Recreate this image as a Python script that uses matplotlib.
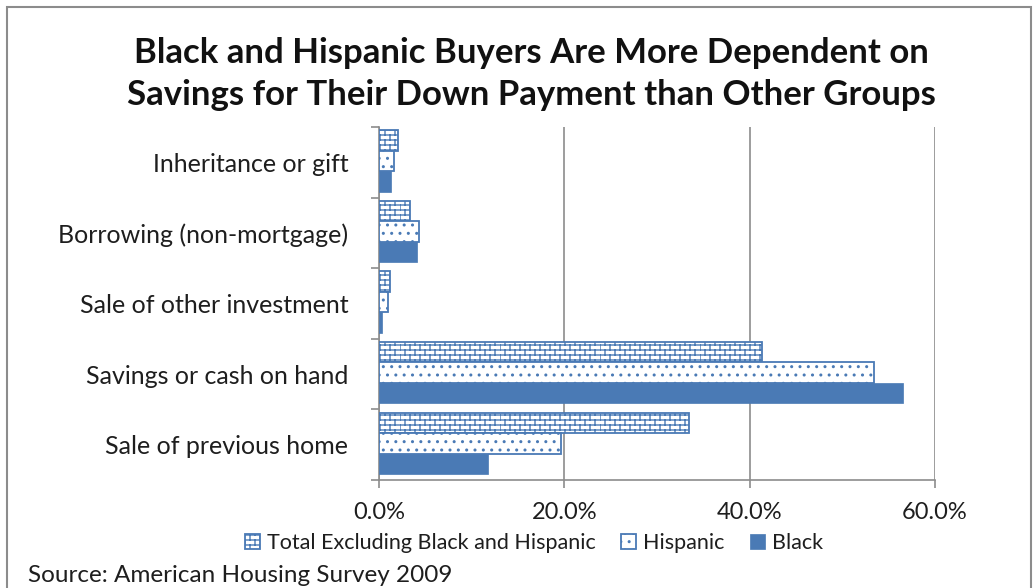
import warnings
import numpy as np
import matplotlib
matplotlib.use("Agg")
import matplotlib.pyplot as plt
import matplotlib.hatch as mhatch
from matplotlib.path import Path
from matplotlib.patches import Rectangle, Patch
from matplotlib.ticker import FixedLocator, PercentFormatter

warnings.filterwarnings("ignore")

# ---------------- data ----------------
categories = ["Inheritance or gift", "Borrowing (non-mortgage)", "Sale of other investment",
              "Savings or cash on hand", "Sale of previous home"]
series_names = ["Total Excluding Black and Hispanic", "Hispanic", "Black"]
total_excl = [2.0, 3.3, 1.2, 41.3, 33.4]
hispanic = [1.6, 4.3, 1.0, 53.4, 19.6]
black = [1.3, 4.1, 0.3, 56.6, 11.8]
x_ticks = [0, 20, 40, 60]
title = "Black and Hispanic Buyers Are More Dependent on\nSavings for Their Down Payment than Other Groups"
source = "Source: American Housing Survey 2009"


# ---------------- custom brick hatch ----------------
class BrickHatch(mhatch.HatchPatternBase):
    def __init__(self, hatch, density):
        n = hatch.count('b')
        self.rows = int(n * density * 3.4) if n else 0
        if self.rows % 2:
            self.rows += 1
        self.cols = 10
        self.num_vertices = (self.rows + self.rows * self.cols) * 2 if n else 0

    def set_vertices_and_codes(self, vertices, codes):
        h = 1.0 / self.rows
        i = 0
        for k in range(self.rows):
            y = k * h
            vertices[i] = (0.0, y); codes[i] = Path.MOVETO; i += 1
            vertices[i] = (1.0, y); codes[i] = Path.LINETO; i += 1
            off = 0.5 * (k % 2) / self.cols
            for j in range(self.cols):
                x = j / self.cols + off
                vertices[i] = (x, y); codes[i] = Path.MOVETO; i += 1
                vertices[i] = (x, y + h); codes[i] = Path.LINETO; i += 1


mhatch._hatch_types.append(BrickHatch)

# ---------------- style ----------------
BLUE = "#4A7AB5"
GREY = "#8C8C8C"
TXT = "#1E1E1E"
plt.rcParams['font.family'] = ['Lato', 'DejaVu Sans']
plt.rcParams['hatch.linewidth'] = 1.0

W, H = 1034, 588
fig = plt.figure(figsize=(W / 100, H / 100), dpi=100)
ax = fig.add_axes([379 / W, 1 - 480 / H, (935 - 379) / W, (480 - 127) / H])

y = np.arange(len(categories))
bh = 0.29
styles = [
    dict(facecolor="white", edgecolor=BLUE, hatch="b", linewidth=1.3),
    dict(facecolor="white", edgecolor=BLUE, hatch="..", linewidth=1.3),
    dict(facecolor=BLUE, edgecolor=BLUE, linewidth=0.5),
]
offsets = [-bh, 0, bh]
for vals, st, off in zip([total_excl, hispanic, black], styles, offsets):
    ax.barh(y + off - 0.02, vals, height=bh, zorder=3, **st)

ax.set_xlim(0, 60)
ax.set_ylim(len(categories) - 0.5, -0.5)

ax.xaxis.set_major_locator(FixedLocator(x_ticks))
ax.xaxis.set_major_formatter(PercentFormatter(decimals=1))
ax.grid(axis='x', color=GREY, linewidth=1.2, zorder=0)
ax.set_axisbelow(True)

ax.set_yticks(y)
ax.set_yticklabels(categories)
ax.yaxis.set_minor_locator(FixedLocator(np.arange(len(categories) + 1) - 0.5))
ax.tick_params(axis='y', which='major', length=0, pad=22, labelsize=18, colors=TXT)
ax.tick_params(axis='y', which='minor', length=5.5, width=1.2, color=GREY)
ax.tick_params(axis='x', which='major', length=5.5, width=1.2, color=GREY, pad=10,
               labelsize=17, labelcolor=TXT)

for s in ["top", "right"]:
    ax.spines[s].set_visible(False)
for s in ["left", "bottom"]:
    ax.spines[s].set_color(GREY)
    ax.spines[s].set_linewidth(1.2)

fig.text(531 / W, 1 - 74 / H, title, ha="center", va="center", fontsize=25,
         fontweight="bold", linespacing=1.38, color="#111111")

handles = [Patch(**st, label=n) for st, n in zip(styles, series_names)]
leg = fig.legend(handles=handles, loc="center", bbox_to_anchor=(534 / W, 1 - 543 / H),
                 ncol=3, frameon=False, fontsize=15.5, handlelength=0.7, handleheight=0.7,
                 handletextpad=0.3, columnspacing=1.2)
for t in leg.get_texts():
    t.set_color(TXT)

fig.text(28 / W, 1 - 575 / H, source, ha="left", va="center", fontsize=17.5, color=TXT)

fig.patches.append(Rectangle((7 / W, -0.05), (1031 - 7) / W, 1.05 - 7 / H, transform=fig.transFigure,
                             fill=False, edgecolor=GREY, linewidth=1.5))

fig.savefig("out.png", dpi=100)
